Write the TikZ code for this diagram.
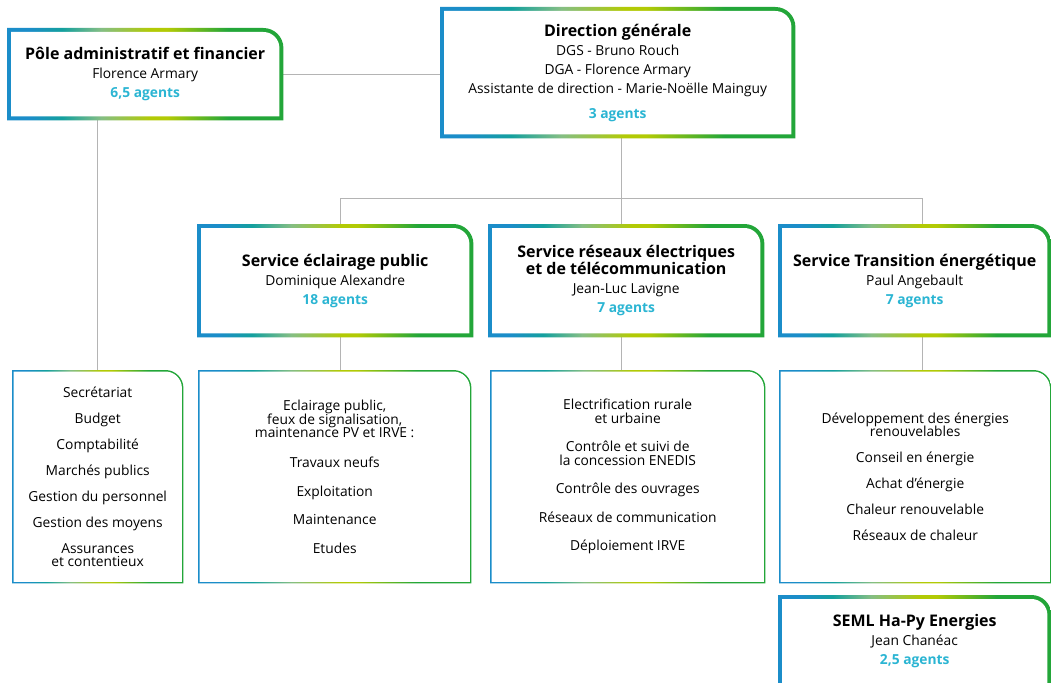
\documentclass[tikz,border=0pt]{standalone}
\usepackage{fontspec}
\setmainfont{Open Sans}
\usetikzlibrary{backgrounds}

\definecolor{dgblue}{HTML}{1B8DC9}
\definecolor{dgteal}{HTML}{14A09E}
\definecolor{dgmid}{HTML}{84BE84}
\definecolor{dglime}{HTML}{B2CA05}
\definecolor{dggreen}{HTML}{23A639}
\definecolor{dgcyan}{HTML}{2BB5D3}
\definecolor{linkgray}{HTML}{B4B4B4}

\pgfdeclarehorizontalshading{ringshade}{100bp}{color(0bp)=(dgblue); color(29bp)=(dgblue);
  color(35bp)=(dgteal); color(42bp)=(dgmid); color(51bp)=(dglime); color(54bp)=(dglime);
  color(65bp)=(dggreen); color(100bp)=(dggreen)}

\newcommand{\lstfont}{\fontsize{13.8}{13.5}\selectfont\lineskiplimit=-20pt\relax}

\tikzset{
  hdr/.style={inner sep=0pt, anchor=north west, align=center,
    font=\fontsize{13.8}{19}\selectfont, minimum width=276pt, minimum height=113pt},
  lst/.style={inner sep=0pt, anchor=north west, align=center,
    font=\lstfont, minimum height=213pt},
  link/.style={draw=linkgray, line width=1pt},
}

\newcommand{\boxtitle}[1]{{\fontsize{16}{17}\selectfont\bfseries #1}}
\newcommand{\agents}[1]{{\bfseries\color{dgcyan}#1}}
% frame with a colour ramp, round top right corner
\newcommand{\gradring}[3]{%
  \shade[shading=ringshade] (#1.south west) -- (#1.north west) -- ([xshift=-#3]#1.north east)
    arc[start angle=90, end angle=0, radius=#3] -- (#1.south east) -- cycle;
  \fill[white] ([shift={(#2,#2)}]#1.south west) -- ([shift={(#2,-#2)}]#1.north west)
    -- ([shift={(-#3,-#2)}]#1.north east) arc[start angle=90, end angle=0, radius=#3-#2]
    -- ([shift={(-#2,#2)}]#1.south east) -- cycle;
}

\begin{document}
\begin{tikzpicture}[x=1pt, y=1pt]
  \useasboundingbox (0,0) rectangle (1051,-682);

  % top level
  \node[hdr, minimum height=92pt] (pole) at (7,-28)
    {\boxtitle{Pôle administratif et financier}\\Florence Armary\\\agents{6,5 agents}};
  \node[hdr, minimum width=355pt, minimum height=131pt] (dg) at (440,-7)
    {\boxtitle{Direction générale}\\DGS - Bruno Rouch\\DGA - Florence Armary\\
     Assistante de direction - Marie-Noëlle Mainguy\\[6pt]\agents{3 agents}};

  % services
  \node[hdr] (eclairage) at (197,-224)
    {\boxtitle{Service éclairage public}\\Dominique Alexandre\\\agents{18 agents}};
  \node[hdr] (reseaux) at (488,-224)
    {\boxtitle{Service réseaux électriques}\\[-2pt]\boxtitle{et de télécommunication}\\
     Jean-Luc Lavigne\\\agents{7 agents}};
  \node[hdr, minimum width=273pt] (transition) at (778,-224)
    {\boxtitle{Service Transition énergétique}\\Paul Angebault\\\agents{7 agents}};
  \node[hdr, minimum width=273pt, minimum height=92pt] (seml) at (778,-595)
    {\boxtitle{SEML Ha-Py Energies}\\Jean Chanéac\\\agents{2,5 agents}};

  % missions
  \node[lst, minimum width=171pt] (listpole) at (12,-370)
    {Secrétariat\\[12.5pt]Budget\\[12.5pt]Comptabilité\\[12.5pt]Marchés publics\\[12.5pt]
     Gestion du personnel\\[12.5pt]Gestion des moyens\\[12.5pt]Assurances\\et contentieux};
  \node[lst, minimum width=273pt] (listecl) at (198,-370)
    {Eclairage public,\\feux de signalisation,\\maintenance PV et IRVE :\\[16.5pt]
     Travaux neufs\\[15pt]Exploitation\\[15pt]Maintenance\\[15pt]Etudes};
  \node[lst, minimum width=275pt] (listres) at (490,-370)
    {Electrification rurale\\et urbaine\\[15pt]Contrôle et suivi de\\la concession ENEDIS\\[15pt]
     Contrôle des ouvrages\\[15pt]Réseaux de communication\\[15pt]Déploiement IRVE};
  \node[lst, minimum width=272pt] (listtra) at (779,-370)
    {Développement des énergies\\renouvelables\\[12.5pt]Conseil en énergie\\[12.5pt]
     Achat d'énergie\\[12.5pt]Chaleur renouvelable\\[12.5pt]Réseaux de chaleur};

  \coordinate (bus) at (621,-198);
  \coordinate (b1) at (340,-198);
  \coordinate (b3) at (922,-198);

  \begin{scope}[on background layer]
    \fill[white] (0,0) rectangle (1051,-682);
    \draw[link] (pole.east) -- (pole.east -| dg.west);
    \draw[link] (pole.south -| listpole.north) -- (listpole.north);
    \draw[link] (dg.south -| bus) -- (bus);
    \draw[link] (b1) -- (b3);
    \draw[link] (b1) -- (b1 |- eclairage.north);
    \draw[link] (bus) -- (bus |- reseaux.north);
    \draw[link] (b3) -- (b3 |- transition.north);
    \draw[link] (b1 |- eclairage.south) -- (b1 |- listecl.north);
    \draw[link] (bus |- reseaux.south) -- (bus |- listres.north);
    \draw[link] (b3 |- transition.south) -- (b3 |- listtra.north);
    \gradring{pole}{4pt}{20pt}
    \gradring{dg}{4pt}{20pt}
    \gradring{eclairage}{4pt}{20pt}
    \gradring{reseaux}{4pt}{20pt}
    \gradring{transition}{4pt}{20pt}
    \gradring{seml}{4pt}{20pt}
    \gradring{listpole}{1.5pt}{18pt}
    \gradring{listecl}{1.5pt}{18pt}
    \gradring{listres}{1.5pt}{18pt}
    \gradring{listtra}{1.5pt}{18pt}
  \end{scope}
\end{tikzpicture}
\end{document}
